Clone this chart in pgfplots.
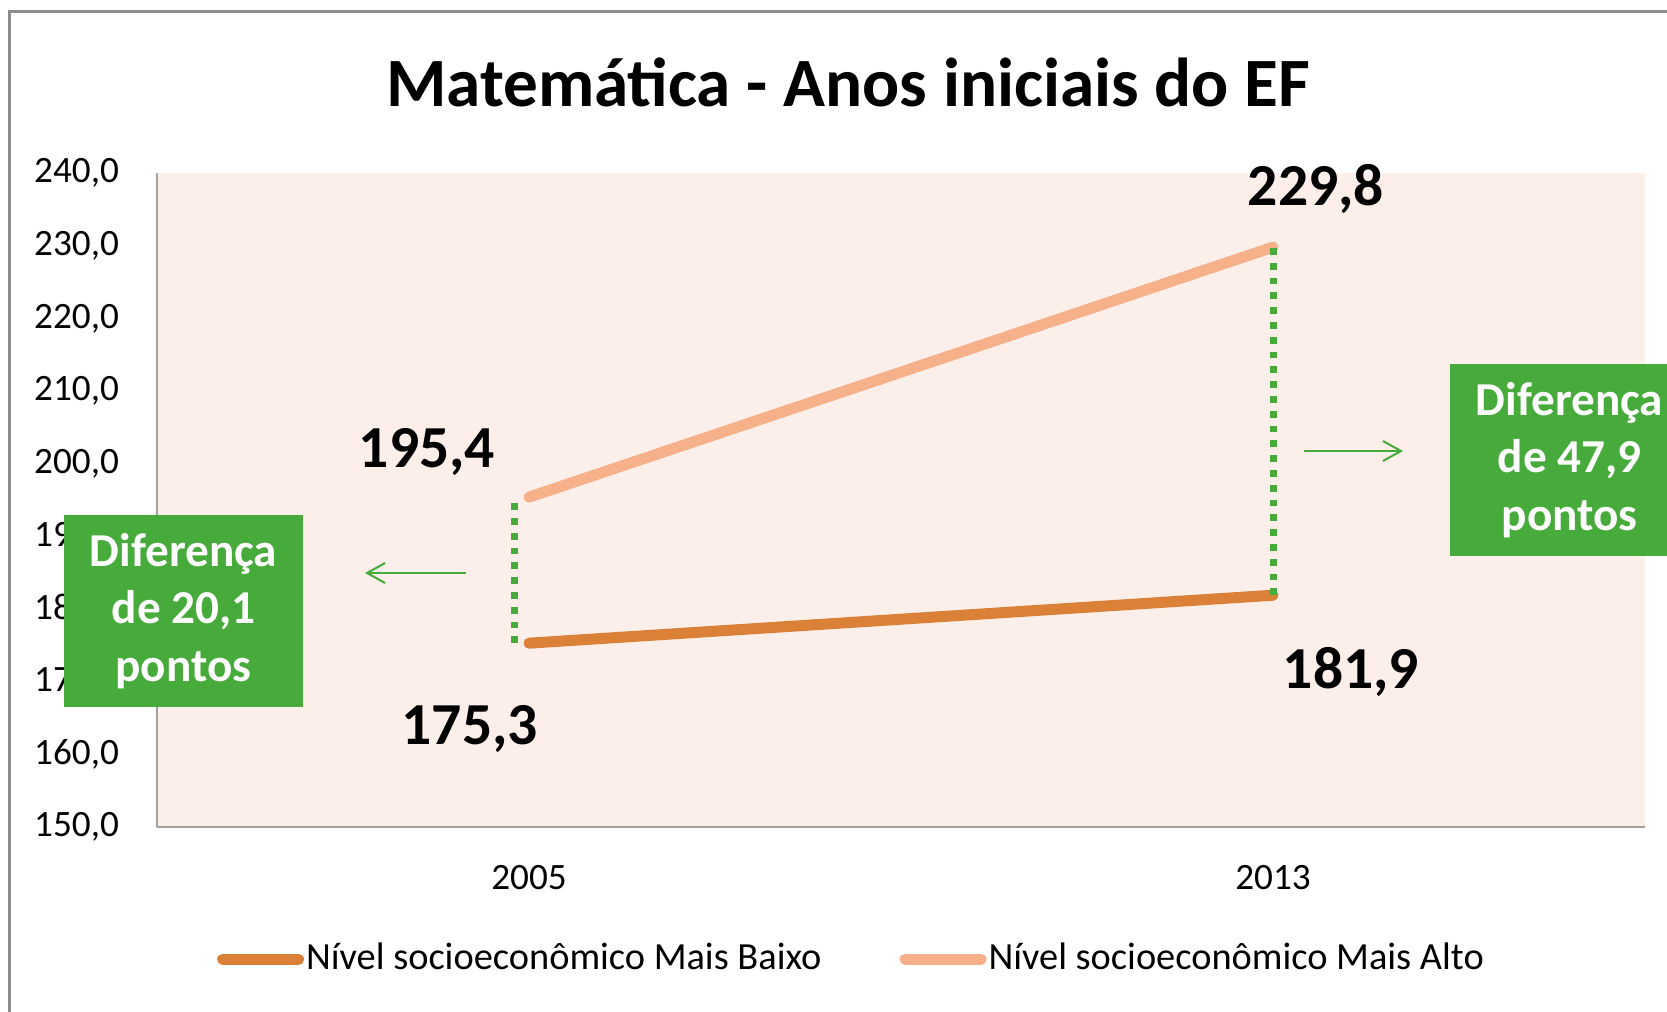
\documentclass[border=0pt]{standalone}
\usepackage{fontspec}
\setmainfont{Carlito}
\usepackage{pgfplots}
\pgfplotsset{compat=1.18}
\usetikzlibrary{arrows.meta}

\definecolor{baixo}{HTML}{DA8137}
\definecolor{alto}{HTML}{F6B08A}
\definecolor{fundo}{HTML}{FCEEE9}
\definecolor{verde}{HTML}{46AB3A}
\definecolor{moldura}{HTML}{8C8C8C}

\begin{document}
\begin{tikzpicture}
% 1 px of the reference = 0.25pt
\useasboundingbox (0,0) rectangle (416.75pt,252.75pt);
\clip (0,0) rectangle (416.75pt,252.75pt);

\begin{scope}[x=0.25pt,y=0.25pt]
  \draw[moldura, line width=0.75pt] (9,-40) rectangle (1720,1000);
  \node[font=\bfseries\fontsize{17.3}{21}\selectfont] at (848,929) {Matemática - Anos iniciais do EF};
\end{scope}

\begin{axis}[
    at={(39.25pt,46pt)}, anchor=south west,
    scale only axis,
    width=372pt, height=163.5pt,
    xmin=-0.5, xmax=1.5,
    ymin=150, ymax=240,
    xtick={0,1}, xticklabels={2005,2013},
    ytick={150,160,...,240},
    /pgf/number format/fixed,
    /pgf/number format/fixed zerofill,
    /pgf/number format/precision=1,
    /pgf/number format/use comma,
    /pgf/number format/assume math mode=true,
    major tick length=0pt,
    tick label style={font=\fontsize{9.3}{11}\selectfont},
    yticklabel style={xshift=-6pt},
    xticklabel style={yshift=-6pt},
    axis background/.style={fill=fundo},
    axis x line=bottom, axis y line=left,
    axis line style={-, draw=gray!75, line width=0.5pt},
    clip=false,
    legend columns=2,
    legend cell align=left,
    legend style={
      at={(0.4667,-0.202)}, anchor=center,
      draw=none, fill=none,
      font=\fontsize{9.6}{11}\selectfont,
      nodes={inner xsep=0.5pt, inner ysep=0pt},
      /tikz/every even column/.append style={column sep=19pt},
    },
    legend image code/.code={
      \draw[#1, line cap=round] (1.4pt,0pt) -- (20.4pt,0pt);
    },
  ]
  \addplot[baixo, line width=2.75pt, line cap=round] coordinates {(0,175.3) (1,181.9)};
  \addlegendentry{Nível socioeconômico Mais Baixo}
  \addplot[alto, line width=2.75pt, line cap=round] coordinates {(0,195.4) (1,229.8)};
  \addlegendentry{Nível socioeconômico Mais Alto}

  \addplot[forget plot, verde, line width=1.75pt, dash pattern=on 1.7pt off 2pt] coordinates {(-0.02,175.3) (-0.02,195.4)};
  \addplot[forget plot, verde, line width=1.75pt, dash pattern=on 1.7pt off 2pt] coordinates {(1,181.9) (1,229.8)};

  \node[font=\bfseries\fontsize{14.9}{17}\selectfont, xshift=-25.5pt, yshift=11.3pt] at (axis cs:0,195.4) {195,4};
  \node[font=\bfseries\fontsize{14.9}{17}\selectfont, xshift=-14.8pt, yshift=-21.5pt] at (axis cs:0,175.3) {175,3};
  \node[font=\bfseries\fontsize{14.9}{17}\selectfont, xshift=10.75pt, yshift=14.5pt] at (axis cs:1,229.8) {229,8};
  \node[font=\bfseries\fontsize{14.9}{17}\selectfont, xshift=19.5pt, yshift=-19.25pt] at (axis cs:1,181.9) {181,9};
\end{axis}

\begin{scope}[x=0.25pt,y=0.25pt]
  \node[fill=verde, text=white, minimum width=59.75pt, minimum height=48pt, inner sep=0pt,
        align=center, font=\bfseries\fontsize{11.8}{14.3}\selectfont] at (183.5,400)
        {Diferença\\de 20,1\\pontos};
  \node[fill=verde, text=white, minimum width=59.75pt, minimum height=48pt, inner sep=0pt,
        align=center, font=\bfseries\fontsize{11.8}{14.3}\selectfont] at (1569.5,551)
        {Diferença\\de 47,9\\pontos};
  \draw[verde, line width=0.5pt, -{Straight Barb[length=4.5pt, width=5pt]}] (466,438) -- (365,438);
  \draw[verde, line width=0.5pt, -{Straight Barb[length=4.5pt, width=5pt]}] (1304,560) -- (1403,560);
\end{scope}
\end{tikzpicture}
\end{document}
